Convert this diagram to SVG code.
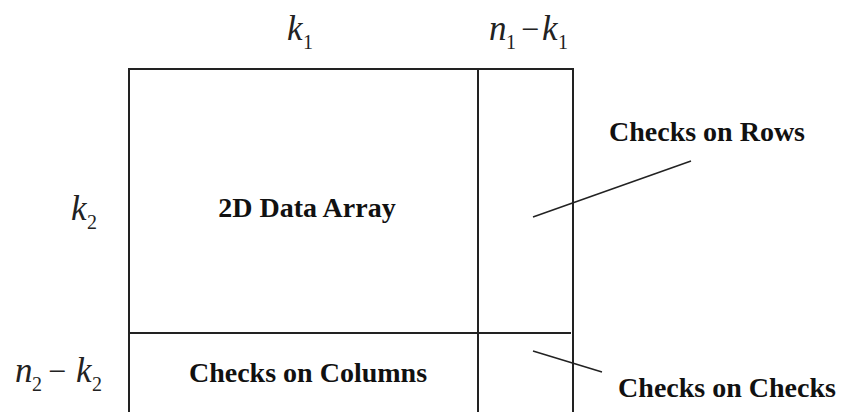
<svg xmlns="http://www.w3.org/2000/svg" width="845" height="412" viewBox="0 0 845 412">
<style>
.frame{stroke:#222;stroke-width:2;fill:none}
.conn{stroke:#222;stroke-width:1.5;fill:none}
.lbl{font-family:"Liberation Serif","Times New Roman",serif;font-weight:bold;font-size:28px;fill:#111}
.m{font-family:"Liberation Serif","Times New Roman",serif;font-style:italic;font-size:35px;fill:#222}
.s{font-family:"Liberation Serif","Times New Roman",serif;font-style:normal;font-size:20px;fill:#222}
.op{font-family:"Liberation Serif","Times New Roman",serif;font-style:normal;font-size:32px;fill:#222}
</style>
<rect width="845" height="412" fill="#fff"/>
<g id="array">
<line class="frame" x1="128" y1="69" x2="574" y2="69"/>
<line class="frame" x1="129" y1="68" x2="129" y2="412"/>
<line class="frame" x1="573" y1="68" x2="573" y2="412"/>
<line class="frame" x1="478" y1="68" x2="478" y2="412"/>
<line class="frame" x1="129" y1="333" x2="571" y2="333"/>
</g>
<g id="data">
<text class="lbl" x="307" y="217" text-anchor="middle">2D Data Array</text>
</g>
<g id="colchecks">
<text class="lbl" x="308" y="382" text-anchor="middle">Checks on Columns</text>
</g>
<g id="rowlabel">
<text class="lbl" x="707" y="141" text-anchor="middle">Checks on Rows</text>
</g>
<g id="checklabel">
<text class="lbl" x="727" y="397" text-anchor="middle">Checks on Checks</text>
</g>
<g id="dims">
<text class="m" x="287" y="40">k</text><text class="s" x="303" y="49">1</text>
<text class="m" x="489" y="40">n</text><text class="s" x="506" y="49">1</text>
<text class="op" x="521" y="40">−</text>
<text class="m" x="542" y="40">k</text><text class="s" x="558" y="49">1</text>
<text class="m" x="71" y="220">k</text><text class="s" x="87" y="229">2</text>
<text class="m" x="15" y="382">n</text><text class="s" x="32" y="391">2</text>
<text class="op" x="48" y="382">−</text>
<text class="m" x="76" y="382">k</text><text class="s" x="92" y="391">2</text>
</g>
<g id="connectors">
<line class="conn" x1="533" y1="217" x2="691" y2="161"/>
<line class="conn" x1="533" y1="351" x2="602" y2="372"/>
</g>
</svg>
